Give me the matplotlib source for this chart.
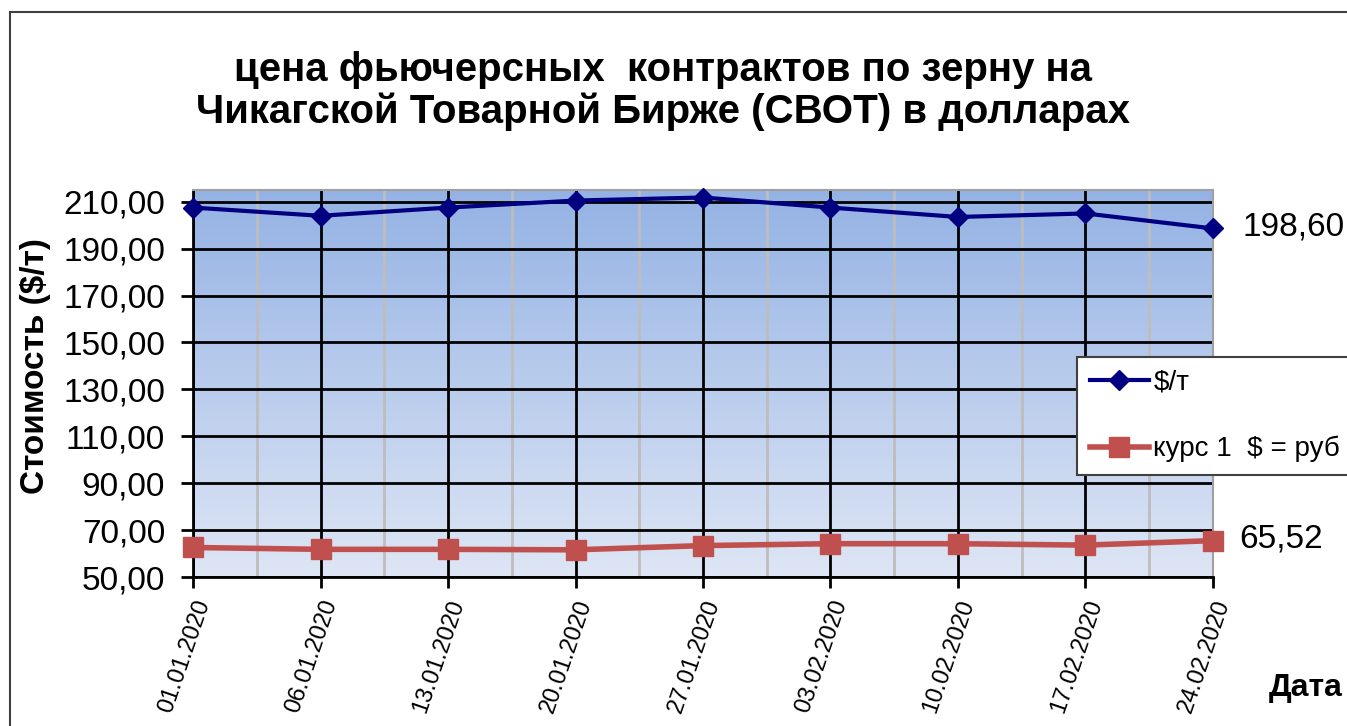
import numpy as np
import matplotlib.pyplot as plt
from matplotlib.lines import Line2D
from matplotlib.ticker import FuncFormatter

plt.rcParams['font.family'] = ['Liberation Sans', 'DejaVu Sans']

# data
dates = ['01.01.2020', '06.01.2020', '13.01.2020', '20.01.2020', '27.01.2020',
         '03.02.2020', '10.02.2020', '17.02.2020', '24.02.2020']
price_usd = [207.5, 204.0, 207.5, 210.5, 211.8, 207.5, 203.5, 205.0, 198.6]
usd_rub = [62.6, 61.8, 61.8, 61.6, 63.4, 64.2, 64.2, 63.6, 65.52]

fig = plt.figure(figsize=(13.47, 7.26), dpi=100)
ax = fig.add_axes([0.1433, 0.2052, 0.7572, 0.5331])

x = np.arange(len(dates))
ax.set_xlim(0, len(dates) - 1)
ax.set_ylim(50, 215)

# gradient background of the plot area
top = np.array([148, 178, 228]) / 255
bottom = np.array([222, 230, 245]) / 255
t = np.linspace(0, 1, 256)[:, None]
grad = (top * (1 - t) + bottom * t)[:, None, :]
ax.imshow(grad, extent=[0, len(dates) - 1, 50, 215], aspect='auto', zorder=0)

# grid: black at dates and every 20, gray in between dates
for xi in x:
    ax.axvline(xi, color='black', lw=2, zorder=1)
for xi in x[:-1] + 0.5:
    ax.axvline(xi, color='#BDBDBD', lw=2, zorder=1)
for yv in range(50, 211, 20):
    ax.axhline(yv, color='black', lw=2, zorder=1)

ax.plot(x, price_usd, color='#000080', lw=3, marker='D', ms=10,
        label='$/т', zorder=3, clip_on=False)
ax.plot(x, usd_rub, color='#C0504D', lw=4, marker='s', ms=14,
        label='курс 1  $ = руб', zorder=3, clip_on=False)

# last value labels
ax.annotate('198,60', (x[-1], price_usd[-1]), xytext=(21, 1), textcoords='offset points',
            fontsize=24, va='center', ha='left', annotation_clip=False)
ax.annotate('65,52', (x[-1], usd_rub[-1]), xytext=(19, 1), textcoords='offset points',
            fontsize=24, va='center', ha='left', annotation_clip=False)

ax.set_yticks(range(50, 211, 20))
ax.yaxis.set_major_formatter(FuncFormatter(lambda v, p: f'{v:.2f}'.replace('.', ',')))
ax.set_xticks(x)
ax.set_xticklabels(dates, rotation=71, ha='right', va='top', rotation_mode='anchor', fontsize=17)
ax.tick_params(axis='y', labelsize=24, length=9, width=2, direction='out', pad=11)
ax.tick_params(axis='x', length=8, width=2, direction='out', pad=6)

for side in ['top', 'right']:
    ax.spines[side].set_color('#A0A0A0')
    ax.spines[side].set_linewidth(1.5)
for side in ['left', 'bottom']:
    ax.spines[side].set_color('black')
    ax.spines[side].set_linewidth(2)

ax.set_ylabel('Стоимость ($/т)', fontsize=24, fontweight='bold')
ax.yaxis.set_label_coords(-0.139, 0.545)
fig.text(0.997, 0.052, 'Дата', fontsize=23, fontweight='bold', ha='right', va='center')

fig.text(0.492, 1 - 91 / 726,
         'цена фьючерсных  контрактов по зерну на\nЧикагской Товарной Бирже (СВОТ) в долларах',
         fontsize=29, fontweight='bold', ha='center', va='center', linespacing=1.12)

leg = fig.legend(loc='upper left', bbox_to_anchor=(1077 / 1347, 1 - 357 / 726),
                 borderaxespad=0, fontsize=20, frameon=True, fancybox=False,
                 edgecolor='#404040', framealpha=1, handlelength=2.15,
                 handletextpad=0.15, labelspacing=1.45, borderpad=0.45)
leg.get_frame().set_linewidth(1.5)

# outer chart border (only left and top visible)
fig.add_artist(Line2D([10 / 1347, 10 / 1347], [0, 1 - 12 / 726], color='#404040', lw=1.5))
fig.add_artist(Line2D([10 / 1347, 1], [1 - 12 / 726, 1 - 12 / 726], color='#404040', lw=1.5))

fig.savefig('out.png', dpi=100)
